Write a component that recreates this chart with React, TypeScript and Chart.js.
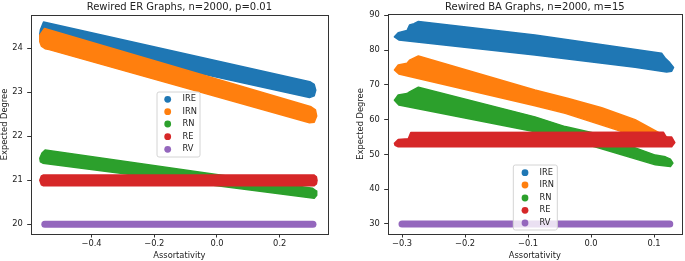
import React, { useEffect, useRef } from 'react';
import { Chart, registerables } from 'chart.js';

Chart.register(...registerables);

type Pt = [number, number];

const SERIES_NAMES = ['IRE', 'IRN', 'RN', 'RE', 'RV'];
const SERIES_COLORS = ['#1f77b4', '#ff7f0e', '#2ca02c', '#d62728', '#9467bd'];

const ER_TITLE = 'Rewired ER Graphs, n=2000, p=0.01';
const BA_TITLE = 'Rewired BA Graphs, n=2000, m=15';
const X_LABEL = 'Assortativity';
const Y_LABEL = 'Expected Degree';

const ER_X_TICKS = [-0.4, -0.2, 0.0, 0.2];
const ER_Y_TICKS = [20, 21, 22, 23, 24];
const BA_X_TICKS = [-0.3, -0.2, -0.1, 0.0, 0.1];
const BA_Y_TICKS = [30, 40, 50, 60, 70, 80, 90];

// Outlines of each scatter cloud: [assortativity, expected degree]
const ER_IRE: Pt[] = [
  [-0.563, 24.42], [-0.553, 24.6], [0.296, 23.24], [0.31, 23.18], [0.315, 23.05],
  [0.31, 22.92], [0.295, 22.88], [-0.56, 24.22], [-0.565, 24.32],
];
const ER_IRN: Pt[] = [
  [-0.565, 24.3], [-0.55, 24.45], [0.3, 22.67], [0.314, 22.6], [0.318, 22.46],
  [0.31, 22.32], [0.295, 22.31], [-0.535, 23.97], [-0.548, 23.99], [-0.56, 24.05], [-0.565, 24.15],
];
const ER_RN: Pt[] = [
  [-0.565, 21.5], [-0.558, 21.62], [-0.548, 21.69], [0.305, 20.82], [0.316, 20.76],
  [0.318, 20.66], [0.31, 20.59], [-0.555, 21.39], [-0.563, 21.42],
];
const ER_RE: Pt[] = [
  [-0.565, 21.0], [-0.56, 21.1], [-0.553, 21.12], [0.31, 21.12], [0.317, 21.08],
  [0.319, 21.0], [0.317, 20.92], [0.31, 20.875], [-0.553, 20.875], [-0.56, 20.9],
];
const ER_RV: Pt[] = [[-0.549, 20.0], [0.306, 20.0]];

const BA_IRE: Pt[] = [
  [-0.312, 83.8], [-0.306, 85.0], [-0.292, 85.6], [-0.288, 87.2], [-0.281, 87.6], [-0.274, 88.2],
  [-0.089, 84.3], [0.112, 79.1], [0.118, 77.6], [0.125, 76.4], [0.131, 75.0], [0.128, 73.9],
  [0.12, 73.7], [0.07, 75.05], [-0.089, 78.6], [-0.305, 82.9],
];
const BA_IRN: Pt[] = [
  [-0.312, 74.3], [-0.306, 75.7], [-0.292, 76.2], [-0.288, 77.1], [-0.274, 78.3], [-0.089, 68.5],
  [-0.036, 66.1], [0.017, 63.4], [0.07, 60.0], [0.102, 56.8], [0.12, 55.0], [0.131, 53.7],
  [0.128, 52.8], [0.07, 55.3], [0.038, 57.2], [-0.041, 61.8], [-0.089, 64.0], [-0.305, 73.1],
];
const BA_RN: Pt[] = [
  [-0.312, 65.6], [-0.306, 67.1], [-0.292, 67.5], [-0.288, 68.0], [-0.274, 69.3], [-0.089, 60.8],
  [-0.041, 58.0], [0.006, 56.1], [0.102, 49.8], [0.118, 49.3], [0.126, 48.6], [0.13, 47.5],
  [0.126, 46.5], [0.102, 47.0], [0.006, 52.2], [-0.089, 56.5], [-0.305, 64.2],
];
const BA_RE: Pt[] = [
  [-0.312, 53.2], [-0.306, 54.3], [-0.29, 54.5], [-0.286, 56.3], [0.115, 56.35], [0.119, 55.1],
  [0.128, 55.0], [0.133, 53.4], [0.128, 52.2], [-0.306, 52.2], [-0.311, 52.6],
];
const BA_RV: Pt[] = [[-0.3, 30.0], [0.125, 30.0]];

const ER_BANDS = [ER_IRE, ER_IRN, ER_RN, ER_RE, ER_RV];
const BA_BANDS = [BA_IRE, BA_IRN, BA_RN, BA_RE, BA_RV];

const FONT = "'DejaVu Sans', 'Liberation Sans', sans-serif";
const TEXT = '#222';
const AXIS = '#333';

type PanelCfg = {
  left: number;
  width: number;
  title: string;
  bands: Pt[][];
  xTicks: number[];
  yTicks: number[];
  xRange: [number, number];
  yRange: [number, number];
  top: number;
  right: number;
  yAxisW: number;
  xAxisH: number;
  yLabelX: number;
  legend: { x: number; y: number; w: number; h: number; mx: number; tx: number; rows: number[] };
};

const PANELS: PanelCfg[] = [
  {
    left: 0, width: 340, title: ER_TITLE, bands: ER_BANDS,
    xTicks: ER_X_TICKS, yTicks: ER_Y_TICKS,
    xRange: [-0.594, 0.354], yRange: [19.78, 24.757],
    top: 15, right: 12, yAxisW: 30.7, xAxisH: 27, yLabelX: 5,
    legend: { x: 157, y: 92, w: 43, h: 65, mx: 167.7, tx: 182.5, rows: [99.3, 111.7, 124, 136.7, 149.3] },
  },
  {
    left: 340, width: 345, title: BA_TITLE, bands: BA_BANDS,
    xTicks: BA_X_TICKS, yTicks: BA_Y_TICKS,
    xRange: [-0.3227, 0.1444], yRange: [27.12, 90.37],
    top: 14, right: 3, yAxisW: 47.7, xAxisH: 27, yLabelX: 21,
    legend: { x: 173.3, y: 165, w: 44, h: 65, mx: 185, tx: 199.5, rows: [172.7, 185, 198, 210.3, 223] },
  },
];

function fmtX(v: number) {
  return Number(v).toFixed(1).replace('-', '\u2212');
}

const decorPlugin = {
  id: 'decor',
  afterDatasetsDraw(chart: any) {
    const { ctx, chartArea: a } = chart;
    ctx.save();
    ctx.strokeStyle = AXIS;
    ctx.lineWidth = 1;
    ctx.strokeRect(Math.round(a.left) + 0.5, Math.round(a.top) + 0.5, Math.round(a.right - a.left), Math.round(a.bottom - a.top));
    ctx.restore();
  },
  afterDraw(chart: any, _args: any, opts: any) {
    const { ctx, chartArea: a } = chart;
    const cx = (a.left + a.right) / 2;
    ctx.save();
    ctx.fillStyle = TEXT;
    ctx.font = `10px ${FONT}`;
    ctx.textAlign = 'center';
    ctx.textBaseline = 'alphabetic';
    ctx.fillText(opts.title, cx, 9.5);
    ctx.font = `8.3px ${FONT}`;
    ctx.textBaseline = 'middle';
    ctx.fillText(X_LABEL, cx, 255.5);
    ctx.save();
    ctx.translate(opts.yLabelX, (a.top + a.bottom) / 2);
    ctx.rotate(-Math.PI / 2);
    ctx.fillText(Y_LABEL, 0, 0);
    ctx.restore();
    const L = opts.legend;
    ctx.beginPath();
    const r = 2;
    ctx.moveTo(L.x + r, L.y);
    ctx.lineTo(L.x + L.w - r, L.y);
    ctx.quadraticCurveTo(L.x + L.w, L.y, L.x + L.w, L.y + r);
    ctx.lineTo(L.x + L.w, L.y + L.h - r);
    ctx.quadraticCurveTo(L.x + L.w, L.y + L.h, L.x + L.w - r, L.y + L.h);
    ctx.lineTo(L.x + r, L.y + L.h);
    ctx.quadraticCurveTo(L.x, L.y + L.h, L.x, L.y + L.h - r);
    ctx.lineTo(L.x, L.y + r);
    ctx.quadraticCurveTo(L.x, L.y, L.x + r, L.y);
    ctx.closePath();
    ctx.fillStyle = 'rgba(255,255,255,0.8)';
    ctx.fill();
    ctx.strokeStyle = '#d4d4d4';
    ctx.lineWidth = 1;
    ctx.stroke();
    ctx.font = `8.3px ${FONT}`;
    ctx.textAlign = 'left';
    ctx.textBaseline = 'middle';
    SERIES_NAMES.forEach((name, i) => {
      ctx.beginPath();
      ctx.arc(L.mx, L.rows[i], 3.4, 0, Math.PI * 2);
      ctx.fillStyle = SERIES_COLORS[i];
      ctx.fill();
      ctx.fillStyle = TEXT;
      ctx.fillText(name, L.tx, L.rows[i]);
    });
    ctx.restore();
  },
};

function Panel({ cfg }: { cfg: PanelCfg }) {
  const ref = useRef<HTMLCanvasElement | null>(null);
  useEffect(() => {
    if (!ref.current) return;
    const datasets = cfg.bands.map((pts, i) => {
      const isLine = pts.length === 2;
      const closed = isLine ? pts : [...pts, pts[0]];
      return {
        label: SERIES_NAMES[i],
        data: closed.map(([x, y]) => ({ x, y })),
        borderColor: SERIES_COLORS[i],
        backgroundColor: SERIES_COLORS[i],
        borderWidth: isLine ? 7 : 1.5,
        borderCapStyle: 'round',
        borderJoinStyle: 'round',
        fill: isLine ? false : 'shape',
        pointRadius: 0,
        pointHoverRadius: 0,
        tension: 0,
        order: 5 - i,
      };
    });
    const tickFont = { family: FONT, size: 8.3 };
    const chart = new Chart(ref.current, {
      type: 'line',
      data: { datasets: datasets as any },
      plugins: [decorPlugin as any],
      options: {
        animation: false,
        responsive: false,
        devicePixelRatio: 1,
        events: [],
        layout: { padding: { left: 0, top: cfg.top, right: cfg.right, bottom: 0 } },
        plugins: {
          legend: { display: false },
          tooltip: { enabled: false },
          title: { display: false },
          decor: { title: cfg.title, legend: cfg.legend, yLabelX: cfg.yLabelX },
        } as any,
        scales: {
          x: {
            type: 'linear',
            min: cfg.xRange[0],
            max: cfg.xRange[1],
            afterFit: (s: any) => { s.height = cfg.xAxisH; },
            afterBuildTicks: (s: any) => { s.ticks = cfg.xTicks.map((v) => ({ value: v })); },
            ticks: {
              autoSkip: false, maxRotation: 0, padding: 1.5, color: TEXT, font: tickFont,
              callback: (v: any) => fmtX(Number(v)),
            },
            grid: { display: true, drawOnChartArea: false, drawTicks: true, tickLength: 3.5, color: AXIS },
            border: { display: false },
          },
          y: {
            type: 'linear',
            min: cfg.yRange[0],
            max: cfg.yRange[1],
            afterFit: (s: any) => { s.width = cfg.yAxisW; },
            afterBuildTicks: (s: any) => { s.ticks = cfg.yTicks.map((v) => ({ value: v })); },
            ticks: {
              autoSkip: false, padding: 4.5, color: TEXT, font: tickFont,
              callback: (v: any) => String(v),
            },
            grid: { display: true, drawOnChartArea: false, drawTicks: true, tickLength: 3.5, color: AXIS },
            border: { display: false },
          },
        },
      } as any,
    });
    return () => chart.destroy();
  }, [cfg]);
  return (
    <canvas
      ref={ref}
      width={cfg.width}
      height={261}
      style={{ position: 'absolute', left: cfg.left, top: 0, width: cfg.width, height: 261 }}
    />
  );
}

export default function App() {
  return (
    <div style={{ position: 'absolute', left: 0, top: 0, width: 685, height: 261, background: '#fff', overflow: 'hidden' }}>
      {PANELS.map((p, i) => (
        <Panel key={i} cfg={p} />
      ))}
    </div>
  );
}
